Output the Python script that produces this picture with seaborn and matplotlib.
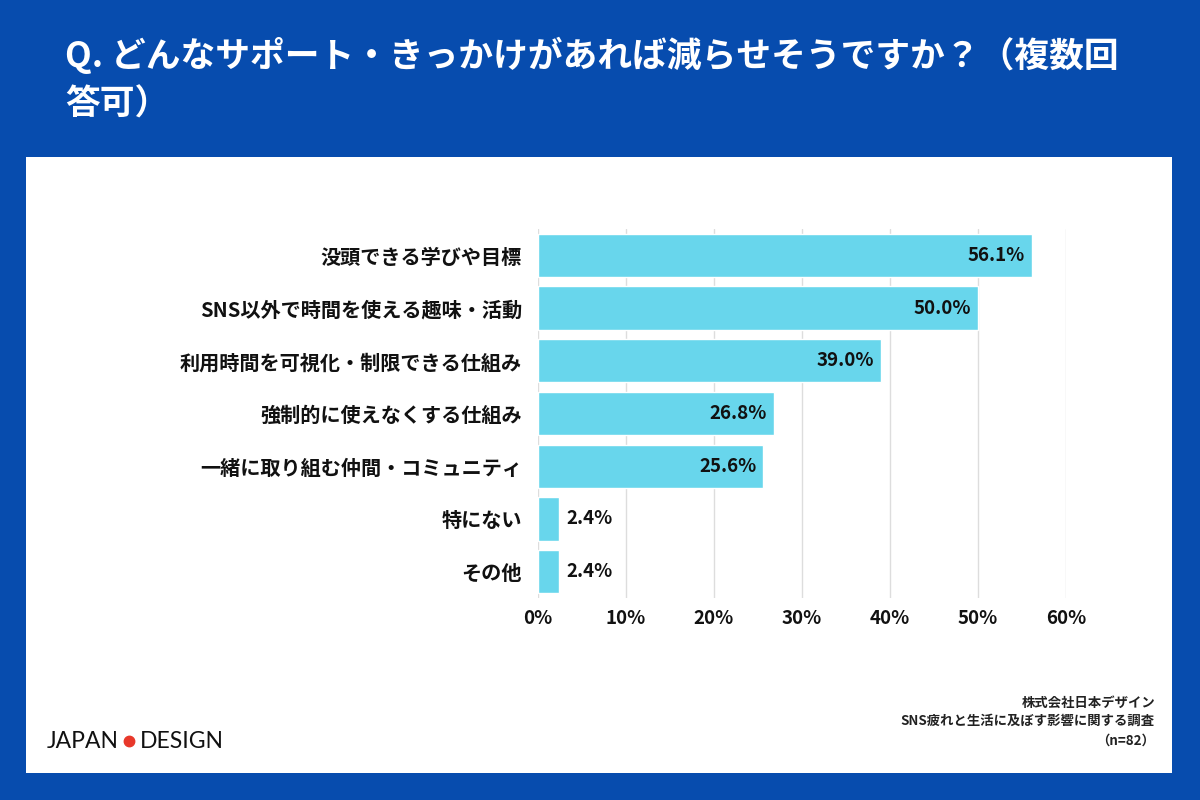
import matplotlib
matplotlib.use("Agg")
import matplotlib.pyplot as plt
import seaborn as sns
import pandas as pd
from matplotlib.patches import Rectangle

# data
categories = ["没頭できる学びや目標", "SNS以外で時間を使える趣味・活動", "利用時間を可視化・制限できる仕組み",
              "強制的に使えなくする仕組み", "一緒に取り組む仲間・コミュニティ", "特にない", "その他"]
values = [56.1, 50.0, 39.0, 26.8, 25.6, 2.4, 2.4]
xticks = [0, 10, 20, 30, 40, 50, 60]
title_lines = ["Q. どんなサポート・きっかけがあれば減らせそうですか？（複数回", "答可）"]
source = ["株式会社日本デザイン", "SNS疲れと生活に及ぼす影響に関する調査", "（n=82）"]

df = pd.DataFrame({"cat": categories, "val": values})

sns.set_theme(style="white")
plt.rcParams['font.family'] = ['Noto Sans CJK JP', 'DejaVu Sans']

blue = "#074cae"
bar_color = "#68d6ec"

fig = plt.figure(figsize=(12, 8), dpi=100)
fig.patch.set_facecolor(blue)

# white panel
fig.patches.append(Rectangle((26 / 1200, 1 - 773 / 800), (1172 - 26) / 1200, (773 - 157) / 800,
                             transform=fig.transFigure, facecolor="white", edgecolor="none", zorder=-5))

for txt, y in zip(title_lines, [55, 104]):
    fig.text(65 / 1200, 1 - y / 800, txt, color="white", fontsize=25, fontweight="bold",
             va="center", ha="left")

ax = fig.add_axes([538 / 1200, 1 - 598 / 800, 528 / 1200, 369 / 800])
ax.set_facecolor("none")
ax.set_zorder(2)
sns.barplot(data=df, x="val", y="cat", color=bar_color, saturation=1, width=0.82, ax=ax, zorder=2)

ax.set_xlim(0, 60)
ax.set_ylim(6.5, -0.5)
ax.set_xticks(xticks)
ax.set_xticklabels([f"{t}%" for t in xticks], fontsize=13.5, fontweight="bold", color="#111111")
ax.tick_params(axis="x", length=0, pad=8)
ax.tick_params(axis="y", length=0, pad=11.5)
for lab in ax.get_yticklabels():
    lab.set_fontsize(14.5)
    lab.set_fontweight("bold")
    lab.set_color("#111111")
ax.set_xlabel("")
ax.set_ylabel("")
for s in ax.spines.values():
    s.set_visible(False)
ax.xaxis.grid(True, color="#dddddd", linewidth=1, zorder=0)
ax.set_axisbelow(True)

for i, v in enumerate(values):
    if v > 10:
        ax.text(v - 0.8, i, f"{v:.1f}%", ha="right", va="center", fontsize=13.5, fontweight="bold", color="#111111", zorder=3)
    else:
        ax.text(v + 0.8, i, f"{v:.1f}%", ha="left", va="center", fontsize=13.5, fontweight="bold", color="#111111", zorder=3)

# footer source
for txt, y in zip(source, [703, 721, 741]):
    fig.text(1155 / 1200, 1 - y / 800, txt, ha="right", va="center", fontsize=9.6, fontweight="bold", color="#222222")

# logo
fig.text(47 / 1200, 1 - 741 / 800, "JAPAN", ha="left", va="center", fontsize=16.5, color="#111111",
         family="Lato")
fig.text(140 / 1200, 1 - 741 / 800, "DESIGN", ha="left", va="center", fontsize=16.5, color="#111111",
         family="Lato")
fig.add_artist(plt.Line2D([129 / 1200], [1 - 741 / 800], marker="o", markersize=7.5, color="#e8382a",
                          transform=fig.transFigure))

fig.savefig("out.png", dpi=100, facecolor=blue)
